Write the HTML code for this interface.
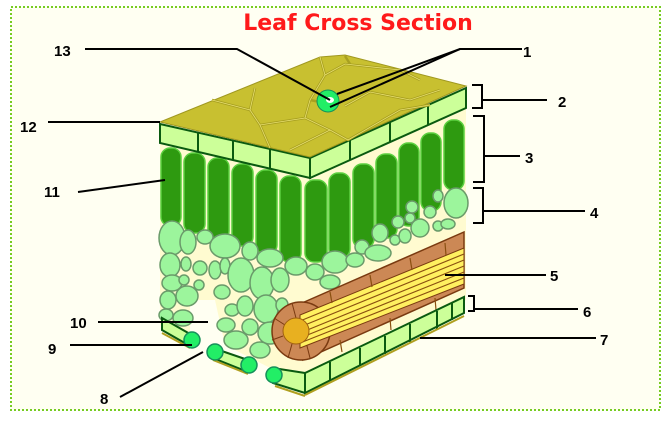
<!DOCTYPE html>
<html><head><meta charset="utf-8"><style>
html,body{margin:0;padding:0;background:#fff;}
svg{display:block;}
text{font-family:"Liberation Sans",sans-serif;font-weight:bold;font-size:15px;fill:#000;}
</style></head><body>
<svg width="671" height="426" viewBox="0 0 671 426" xmlns="http://www.w3.org/2000/svg">
<rect x="0" y="0" width="671" height="426" fill="#fff"/>
<rect x="11" y="7" width="649" height="403" fill="#fffff2" stroke="#77cc22" stroke-width="2" stroke-dasharray="2,2"/>
<text x="358" y="30" text-anchor="middle" style="font-size:22px;fill:#ff1a1a;font-family:'DejaVu Sans',sans-serif">Leaf Cross Section</text>

<polygon points="160,140 310,178 466,108 466,300 305,390 160,325" fill="#fffbd0"/>
<polygon points="190,300 215,300 225,345 290,378 300,392 260,392 190,350" fill="#fffff2"/>

<g fill="#2e9a10" stroke="#5cd040" stroke-width="1.5">
<rect x="161" y="148" width="20" height="78" rx="9"/>
<rect x="184" y="153" width="21" height="80" rx="9"/>
<rect x="208" y="158" width="21" height="82" rx="9"/>
<rect x="232" y="164" width="21" height="82" rx="9"/>
<rect x="256" y="170" width="21" height="84" rx="9"/>
<rect x="280" y="176" width="21" height="86" rx="9"/>
<rect x="305" y="180" width="22" height="82" rx="9"/>
<rect x="329" y="173" width="21" height="85" rx="9"/>
<rect x="353" y="164" width="21" height="84" rx="9"/>
<rect x="376" y="154" width="21" height="84" rx="9"/>
<rect x="399" y="143" width="20" height="83" rx="9"/>
<rect x="421" y="133" width="20" height="78" rx="9"/>
<rect x="444" y="120" width="20" height="70" rx="9"/>
</g>

<g fill="#9cf59c" stroke="#6a9a6a" stroke-width="1.5">
<ellipse cx="172" cy="238" rx="13" ry="17"/>
<ellipse cx="188" cy="242" rx="8" ry="12"/>
<ellipse cx="205" cy="237" rx="8" ry="7"/>
<ellipse cx="225" cy="246" rx="15" ry="12"/>
<ellipse cx="250" cy="251" rx="8" ry="9"/>
<ellipse cx="270" cy="258" rx="13" ry="9"/>
<ellipse cx="296" cy="266" rx="11" ry="9"/>
<ellipse cx="170" cy="265" rx="10" ry="12"/>
<ellipse cx="186" cy="264" rx="5" ry="7"/>
<ellipse cx="200" cy="268" rx="7" ry="7"/>
<ellipse cx="215" cy="270" rx="6" ry="9"/>
<ellipse cx="225" cy="266" rx="5" ry="8"/>
<ellipse cx="241" cy="275" rx="13" ry="17"/>
<ellipse cx="262" cy="283" rx="12" ry="16"/>
<ellipse cx="280" cy="280" rx="9" ry="12"/>
<ellipse cx="172" cy="283" rx="10" ry="8"/>
<ellipse cx="184" cy="280" rx="5" ry="5"/>
<ellipse cx="199" cy="285" rx="5" ry="5"/>
<ellipse cx="187" cy="296" rx="11" ry="10"/>
<ellipse cx="168" cy="300" rx="8" ry="9"/>
<ellipse cx="183" cy="318" rx="10" ry="8"/>
<ellipse cx="166" cy="315" rx="7" ry="6"/>
<ellipse cx="222" cy="292" rx="8" ry="7"/>
<ellipse cx="232" cy="310" rx="7" ry="6"/>
<ellipse cx="245" cy="306" rx="8" ry="10"/>
<ellipse cx="266" cy="309" rx="12" ry="14"/>
<ellipse cx="226" cy="325" rx="9" ry="7"/>
<ellipse cx="250" cy="327" rx="8" ry="8"/>
<ellipse cx="270" cy="333" rx="12" ry="11"/>
<ellipse cx="236" cy="340" rx="12" ry="9"/>
<ellipse cx="260" cy="350" rx="10" ry="8"/>
<ellipse cx="282" cy="305" rx="6" ry="7"/>
<ellipse cx="315" cy="272" rx="9" ry="8"/>
<ellipse cx="335" cy="262" rx="13" ry="11"/>
<ellipse cx="330" cy="282" rx="10" ry="7"/>
<ellipse cx="355" cy="260" rx="9" ry="7"/>
<ellipse cx="362" cy="247" rx="7" ry="7"/>
<ellipse cx="378" cy="253" rx="13" ry="8"/>
<ellipse cx="380" cy="233" rx="8" ry="9"/>
<ellipse cx="395" cy="240" rx="5" ry="5"/>
<ellipse cx="405" cy="236" rx="6" ry="7"/>
<ellipse cx="398" cy="222" rx="6" ry="6"/>
<ellipse cx="410" cy="218" rx="5" ry="5"/>
<ellipse cx="420" cy="228" rx="9" ry="9"/>
<ellipse cx="430" cy="212" rx="6" ry="6"/>
<ellipse cx="438" cy="226" rx="5" ry="5"/>
<ellipse cx="448" cy="224" rx="7" ry="5"/>
<ellipse cx="456" cy="203" rx="12" ry="15"/>
<ellipse cx="412" cy="207" rx="6" ry="6"/>
<ellipse cx="438" cy="196" rx="5" ry="6"/>
</g>

<polygon points="302,303 464,232 464,288 303,360" fill="#cc8855" stroke="#7a3a10" stroke-width="1.5"/>
<circle cx="301" cy="331" r="29" fill="#cc8855" stroke="#7a3a10" stroke-width="1.5"/>
<g stroke="#7a3a10" stroke-width="1">
<line x1="296" y1="318" x2="292" y2="303"/><line x1="285" y1="325" x2="274" y2="318"/>
<line x1="283" y1="336" x2="272" y2="340"/><line x1="292" y1="344" x2="288" y2="358"/>
<line x1="306" y1="342" x2="310" y2="358"/>
</g>
<polygon points="300,315 464,248 464,284 300,348" fill="#fff060" stroke="#7a3a10" stroke-width="1"/>
<g stroke="#8a5010" stroke-width="1.2">
<line x1="300" y1="321" x2="464" y2="254"/>
<line x1="300" y1="327" x2="464" y2="260"/>
<line x1="300" y1="333" x2="464" y2="266"/>
<line x1="300" y1="338" x2="464" y2="272"/>
<line x1="300" y1="343" x2="464" y2="278"/>
<line x1="330" y1="292" x2="332" y2="303"/><line x1="370" y1="275" x2="372" y2="287"/>
<line x1="410" y1="258" x2="412" y2="270"/><line x1="445" y1="243" x2="446" y2="255"/>
<line x1="340" y1="340" x2="342" y2="352"/><line x1="390" y1="318" x2="391" y2="330"/>
<line x1="435" y1="298" x2="436" y2="310"/>
</g>
<circle cx="296" cy="331" r="13" fill="#e8b020" stroke="#a06010" stroke-width="1"/>

<g fill="#ccff99" stroke="#0a5a10" stroke-width="2">
<polygon points="305,373 464,297 464,313 305,393"/>
<line x1="330" y1="362" x2="330" y2="380"/><line x1="360" y1="348" x2="360" y2="366"/>
<line x1="385" y1="336" x2="385" y2="354"/><line x1="410" y1="324" x2="410" y2="342"/>
<line x1="437" y1="311" x2="437" y2="329"/><line x1="452" y1="303" x2="452" y2="320"/>
<polygon points="273,368 305,373 305,393 273,383"/>
<polygon points="213,348 248,360 248,372 213,358"/>
<polygon points="162,318 190,334 190,346 162,330"/>
</g>
<g stroke="#b0a020" stroke-width="2"><line x1="305" y1="395" x2="464" y2="316"/><line x1="275" y1="386" x2="305" y2="396"/><line x1="213" y1="360" x2="248" y2="374"/><line x1="162" y1="333" x2="190" y2="348"/></g>
<g fill="#22ee66" stroke="#16905a" stroke-width="1.5">
<circle cx="192" cy="340" r="8"/><circle cx="215" cy="352" r="8"/>
<circle cx="249" cy="365" r="8"/><circle cx="274" cy="375" r="8"/>
</g>

<g fill="#ccff99" stroke="#0a5a10" stroke-width="2">
<polygon points="160,124 310,158 310,178 160,143"/>
<polygon points="310,158 466,88 466,108 310,178"/>
<line x1="198" y1="133" x2="198" y2="152"/><line x1="233" y1="141" x2="233" y2="160"/>
<line x1="270" y1="149" x2="270" y2="168"/>
<line x1="350" y1="140" x2="350" y2="160"/><line x1="390" y1="122" x2="390" y2="142"/>
<line x1="428" y1="105" x2="428" y2="125"/>
</g>
<polygon points="160,122 320,57 345,55 466,86 310,157" fill="#c8c030" stroke="#a09820" stroke-width="1"/>
<g stroke="#a8a020" stroke-width="2.5" fill="none">
<path d="M212,100 L250,110 L260,125 L305,118 L310,100 L325,75 L320,57"/>
<path d="M255,88 L250,110"/>
<path d="M305,118 L330,130 L348,140 L400,110 L430,105"/>
<path d="M325,75 L345,64 L400,70 L420,80"/>
<path d="M345,106 L370,92 L410,100 L440,90"/>
<path d="M290,150 L330,130"/><path d="M260,125 L270,148"/>
<path d="M345,56 L350,64"/><path d="M310,100 L330,104"/>
</g>
<g stroke="#e8e070" stroke-width="0.8" fill="none">
<path d="M212,100 L250,110 L260,125 L305,118 L310,100 L325,75 L320,57"/>
<path d="M255,88 L250,110"/>
<path d="M305,118 L330,130 L348,140 L400,110 L430,105"/>
<path d="M325,75 L345,64 L400,70 L420,80"/>
<path d="M345,106 L370,92 L410,100 L440,90"/>
<path d="M290,150 L330,130"/><path d="M260,125 L270,148"/>
</g>
<circle cx="328" cy="101" r="11" fill="#22ee66" stroke="#16905a" stroke-width="1"/>
<ellipse cx="330" cy="100" rx="4" ry="3" fill="#fff"/>

<g stroke="#000" stroke-width="2" fill="none">
<polyline points="85,49 237,49 330,100"/>
<polyline points="522,49 460,49 337,94"/>
<line x1="460" y1="49" x2="330" y2="107"/>
<polyline points="472,85 482,85 482,108 472,108"/><line x1="482" y1="100" x2="547" y2="100"/>
<polyline points="473,116 484,116 484,182 473,182"/><line x1="484" y1="156" x2="520" y2="156"/>
<polyline points="473,188 483,188 483,223 473,223"/><line x1="483" y1="211" x2="585" y2="211"/>
<line x1="445" y1="275" x2="546" y2="275"/>
<polyline points="468,296 474,296 474,311 468,311"/><line x1="474" y1="309" x2="578" y2="309"/>
<line x1="420" y1="338" x2="596" y2="338"/>
<line x1="70" y1="345" x2="192" y2="345"/>
<line x1="98" y1="322" x2="208" y2="322"/>
<line x1="120" y1="397" x2="203" y2="352"/>
<line x1="78" y1="192" x2="165" y2="180"/>
<line x1="48" y1="122" x2="160" y2="122"/>
</g>
<text x="54" y="56">13</text>
<text x="523" y="57">1</text>
<text x="558" y="107">2</text>
<text x="20" y="132">12</text>
<text x="525" y="163">3</text>
<text x="44" y="197">11</text>
<text x="590" y="218">4</text>
<text x="550" y="281">5</text>
<text x="583" y="317">6</text>
<text x="70" y="328">10</text>
<text x="600" y="345">7</text>
<text x="48" y="354">9</text>
<text x="100" y="404">8</text>
</svg>
</body></html>
